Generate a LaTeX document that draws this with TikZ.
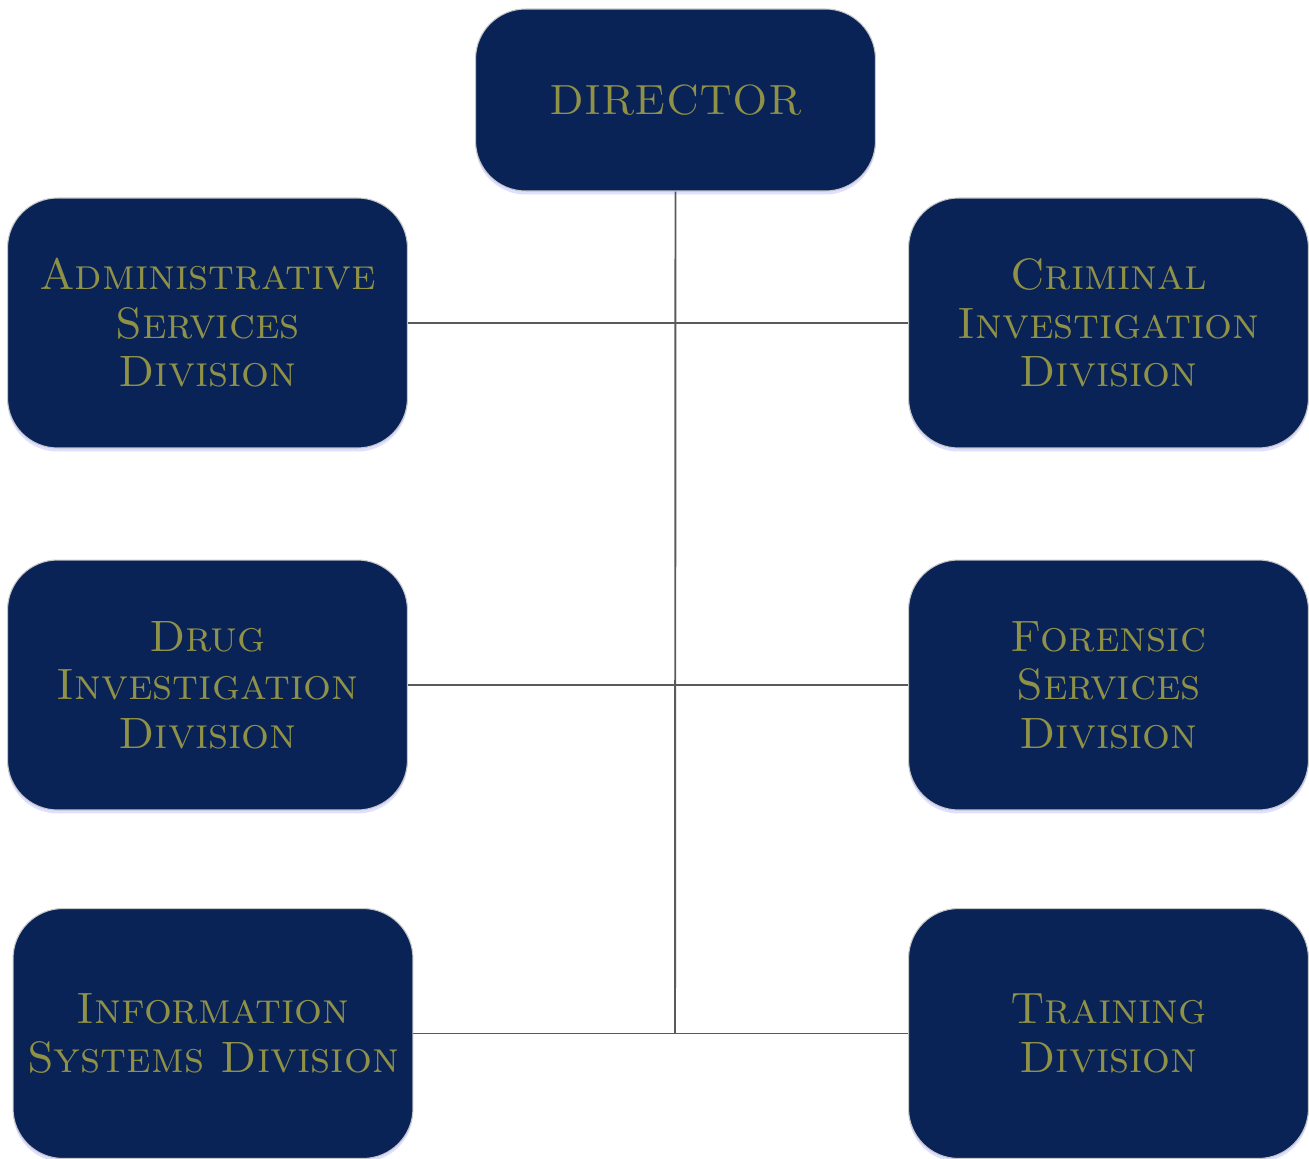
\documentclass[tikz,border=0pt]{standalone}
\usepackage{fontspec}
\usepackage{tikz}
\usetikzlibrary{shadows}
\definecolor{navy}{HTML}{0A2357}
\definecolor{olive}{HTML}{8F9147}
\definecolor{linegray}{HTML}{5A5A5A}

\begin{document}
\begin{tikzpicture}[x=0.02cm, y=-0.02cm,
  unit/.style={draw=gray!45, line width=0.6pt, fill=navy, rounded corners=1cm,
    minimum width=8cm, minimum height=5cm, inner sep=0pt, align=center,
    text=olive, font=\fontsize{25}{27.6}\selectfont\scshape\addfontfeatures{LetterSpace=4},
    drop shadow={shadow xshift=0pt, shadow yshift=-2pt, fill=blue!25, opacity=0.5}},
  head/.style={unit, minimum height=3.64cm,
    font=\fontsize{24}{27.6}\selectfont\scshape\addfontfeatures{LetterSpace=0}},
  link/.style={draw=linegray, line width=1.1pt}]
\useasboundingbox (0,0) rectangle (1309,1159);
% Director
\node[head] (dir) at (675.5,100) {DIRECTOR};
% left column
\node[unit] (adm) at (207.5,323) {Administrative\\Services\\Division};
\node[unit] (drug) at (207.5,685) {Drug\\Investigation\\Division};
\node[unit] (info) at (213,1033.5) {Information\\Systems Division};
% right column
\node[unit] (crim) at (1108.5,323) {Criminal\\Investigation\\Division};
\node[unit] (fors) at (1108.5,685) {Forensic\\Services\\Division};
\node[unit] (train) at (1108.5,1033.5) {Training\\Division};

\coordinate (bot) at (675,1033.5);
\draw[link] (dir.south) -- (bot);
\draw[link] (adm.east) -- (crim.west);
\draw[link] (drug.east) -- (fors.west);
\draw[link] (info.east) -- (train.west);
\end{tikzpicture}
\end{document}
